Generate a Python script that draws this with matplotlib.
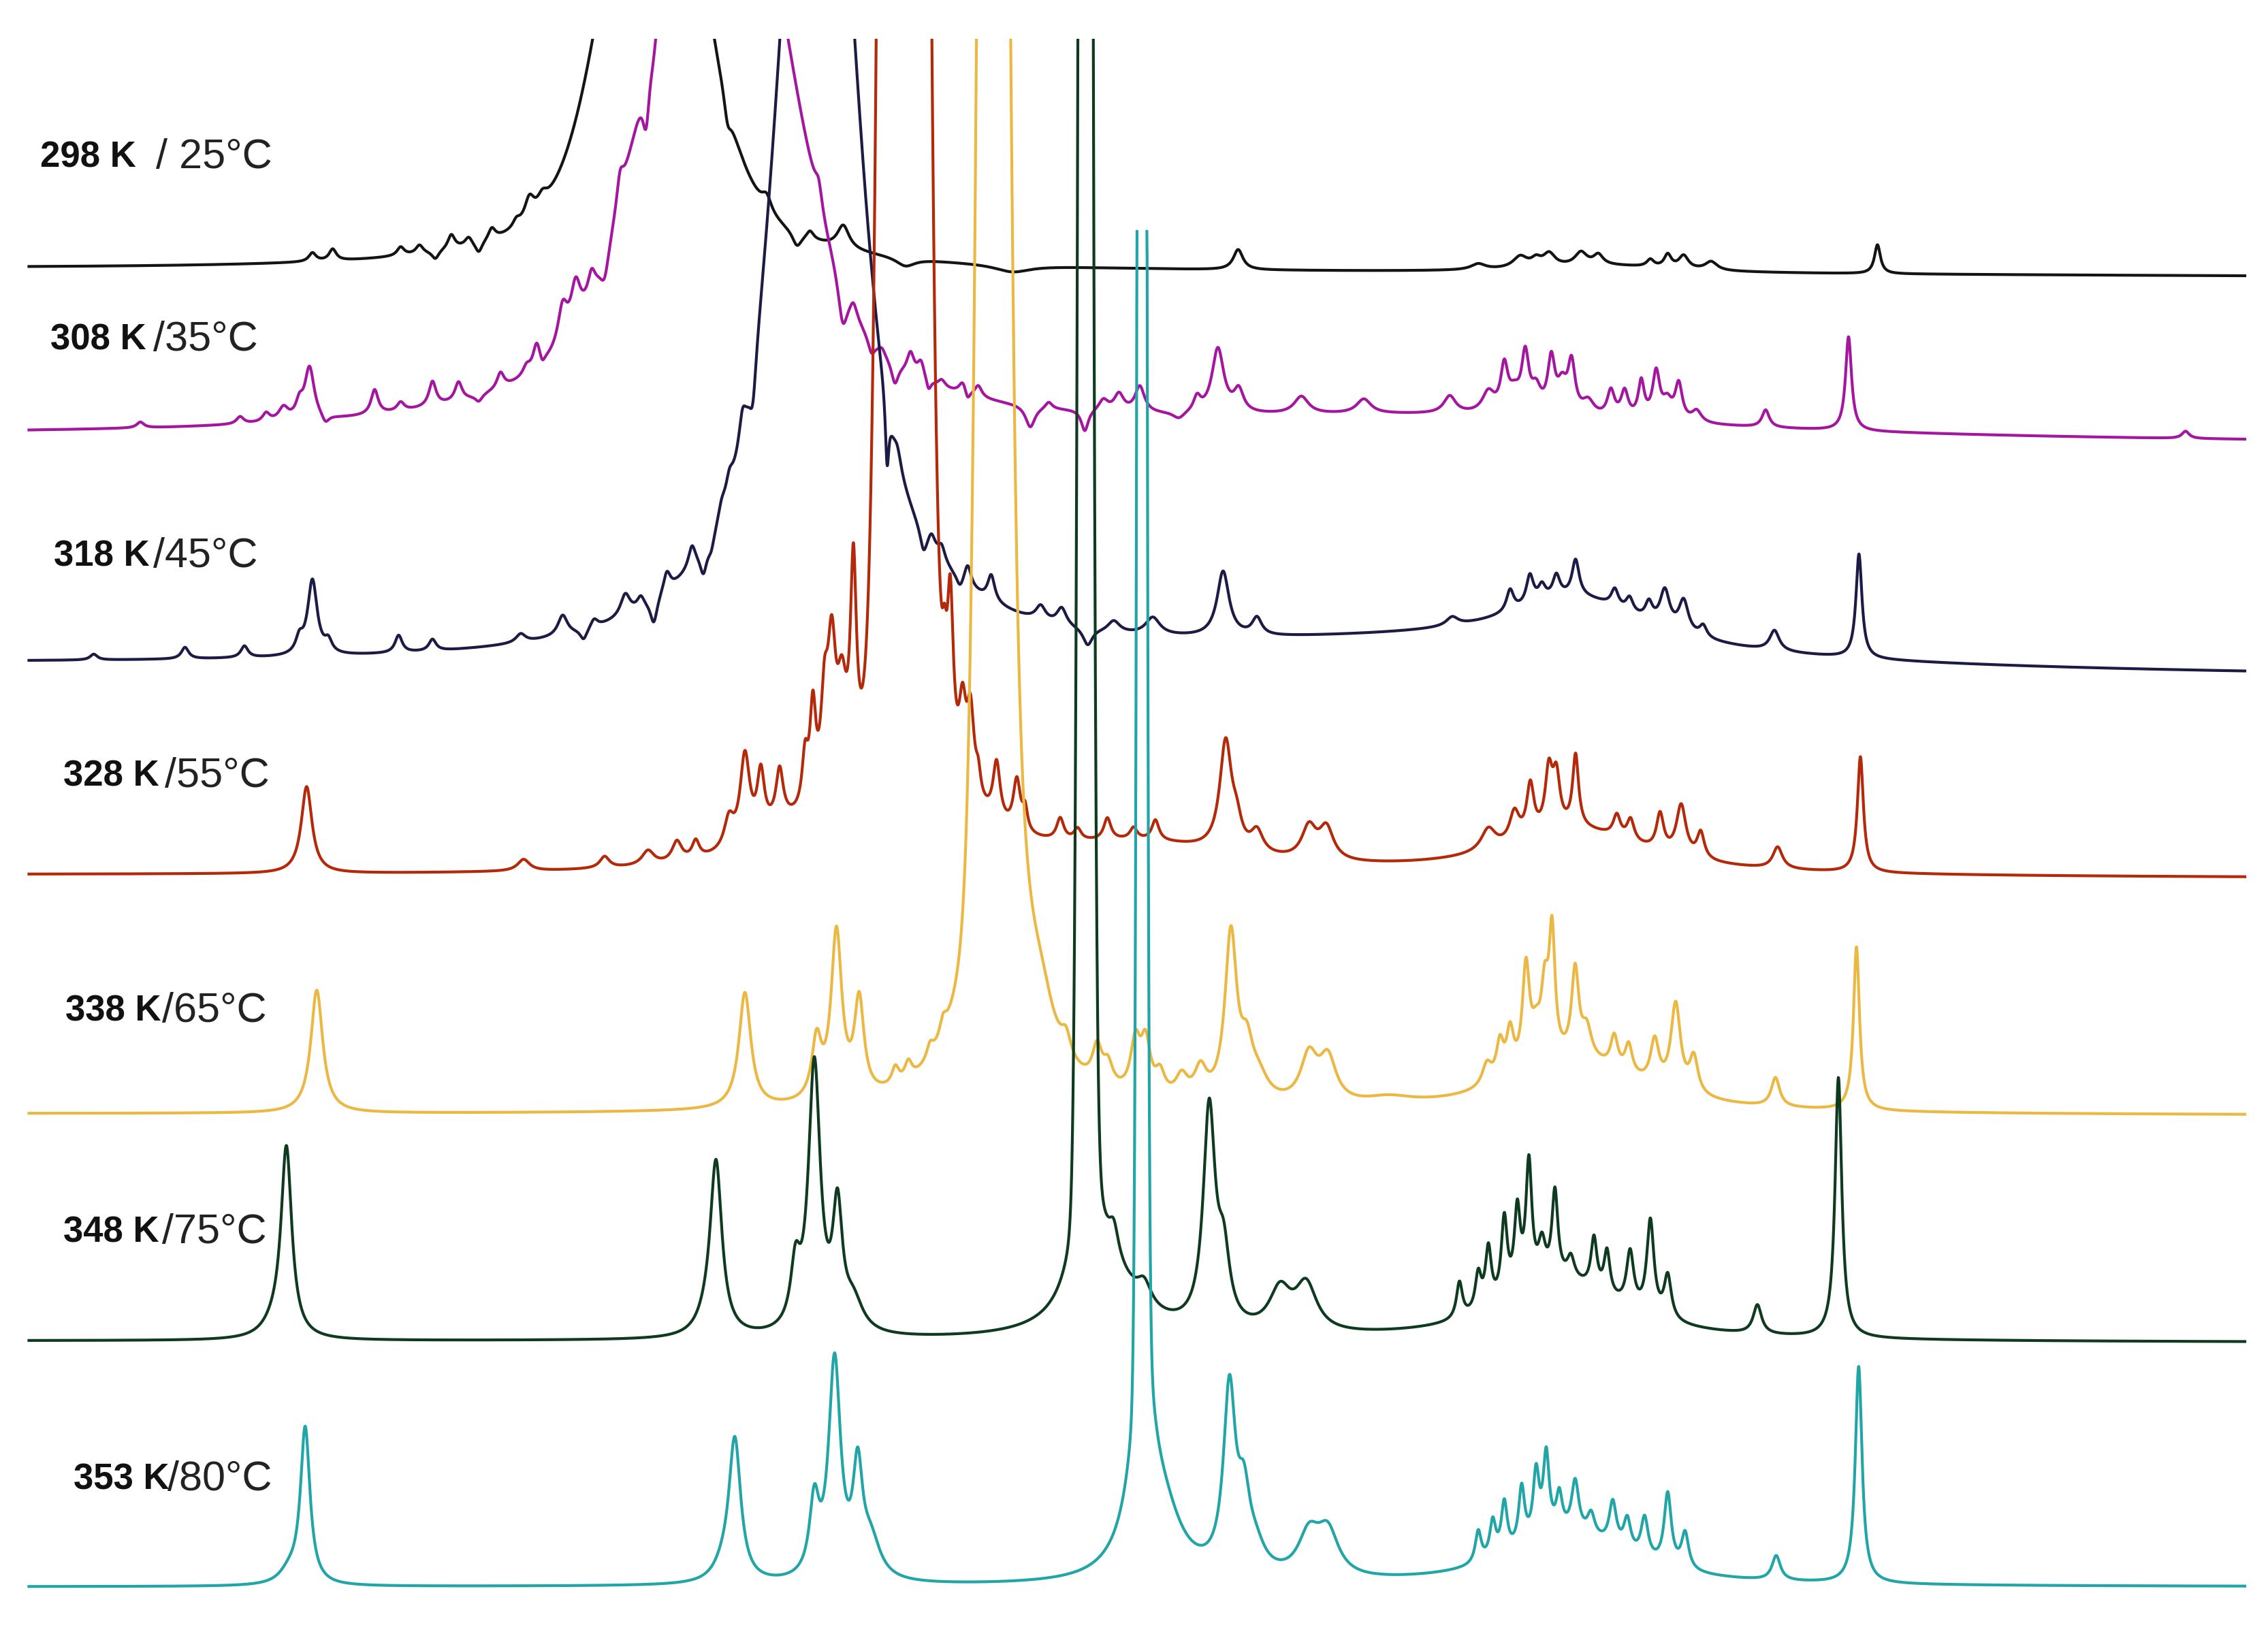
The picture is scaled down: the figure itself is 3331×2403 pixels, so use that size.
import numpy as np
import matplotlib
matplotlib.use("Agg")
import matplotlib.pyplot as plt

# Variable temperature 1H NMR stack, one trace per temperature.
# x = shift position, y = trace offset (plot units, top of figure = 0, grows downward)
kelvin = ["298 K", "308 K", "318 K", "328 K", "338 K", "348 K", "353 K"]
celsius = ["/ 25°C", "/35°C", "/45°C", "/55°C", "/65°C", "/75°C", "/80°C"]
colors = ["#141414", "#a4169f", "#1b1b45", "#b3290a", "#ebb843", "#0e3a20", "#21a5a6"]

base_left = [186, 302, 460, 605, 770, 927, 1097]
base_right = [191, 307, 468, 607, 771, 928, 1097]

# the big solvent (water) signal that moves with temperature: gaussian core + lorentzian skirt
water_core = [(452, 250, 35), (497, 300, 48), (565, 400, 25), (625, 6000, 10),
              (686, 1800, 8), (750.5, 3000, 3.8), (789.5, 3000, 2.5)]
water_skirt = [(452, 110, 55), (497, 180, 70), (565, 320, 45), (625, 150, 30),
               (690, 700, 11), (751, 150, 8), (790, 150, 7)]
# the 353 K trace is cut off at this height in the original figure
clip_height = [None, None, None, None, None, None, 937]

# other lines (position, height, half width)
peaks_298 = [(216, 6, 3), (230, 8, 3), (277, 6, 3), (290, 6, 3), (301, -6, 3), (312, 10, 3),
             (324, 6, 3), (331, -8, 3), (340, 8, 3), (357, 5, 3), (366, 15, 4), (375, 8, 4),
             (503, -15, 3), (530, 10, 4), (551, -10, 4), (560, 6, 3), (583, 16, 5), (626, -6, 8),
             (700, -5, 15), (856, 14, 4), (1022, 4, 6), (1051, 8, 6), (1062, 5, 4), (1071, 9, 5),
             (1093, 9, 5), (1105, 7, 4), (1141, 5, 3), (1153, 9, 3), (1164, 9, 4), (1183, 6, 5),
             (1110, 5, 60), (1298, 20, 2.5)]
peaks_308 = [(97, 4, 3), (166, 5, 3), (184, 6, 3), (196, 9, 4), (207, 10, 3), (214, 36, 4),
             (225, -6, 3), (259, 17, 3), (277, 6, 3), (299, 17, 3), (317, 13, 3), (331, -5, 3),
             (346, 11, 3), (364, 6, 3), (371, 17, 3), (375, -5, 2), (389, 26, 4), (398, 29, 4),
             (409, 15, 3), (418, -20, 4), (428.7, 20, 3), (446.7, -40, 3), (452, -20, 4),
             (566, 15, 3), (582.6, -30, 4), (590, 10, 3), (602.5, -10, 3), (609.7, 5, 3),
             (618.7, -15, 3), (629.5, 15, 3), (636.7, 12, 3), (642, -8, 2), (651, 5, 3),
             (665.5, 8, 3), (669, -6, 2), (676.3, 8, 3), (712.3, -15, 4), (725, 5, 3),
             (750, -15, 3), (762.8, 8, 4), (773.6, 12, 4), (788, 18, 4), (815, -5, 5),
             (827.6, 10, 3), (842, 45, 5), (856.4, 15, 4), (899.7, 12, 6), (942.9, 10, 6),
             (1002.3, 12, 5), (1000, 15, 250),
             (1029, 14, 5), (1040, 30, 3), (1047, 12, 5), (1054.5, 38, 3), (1062, 15, 4),
             (1072.5, 36, 3), (1080, 18, 4), (1086.5, 34, 3), (1098, 10, 5), (1113.7, 18, 3),
             (1123.2, 18, 3), (1134.7, 25, 2.5), (1145, 32, 3), (1152.7, 12, 4), (1160.6, 25, 3),
             (1173, 8, 4), (1220.7, 12, 3), (1278, 65, 2.5), (1511, 5, 3)]
peaks_318 = [(64.8, 4, 3), (127.9, 8, 3), (169, 8, 3), (207, 10, 3), (216, 52, 4), (227, 8, 3),
             (275.6, 12, 3), (299, 8, 3), (360, 6, 4), (389, 14, 4), (403.5, -8, 3), (410.7, 6, 3),
             (432.3, 15, 4), (443, 8, 3), (452, -18, 3), (461, 14, 3), (478.4, 15, 3),
             (486.3, -18, 3), (491.7, -10, 3), (498.9, 8, 3), (504.3, 12, 3), (513.3, 20, 3),
             (520.5, -30, 3), (613.3, -45, 1.5), (620.5, 10, 3), (638.5, -15, 3), (644, 10, 3),
             (651, 10, 3), (663.7, -8, 3), (669, 15, 3), (685.3, 18, 3), (719.5, 10, 4),
             (734, 12, 4), (752, -12, 4), (770, 8, 5), (797, 12, 6), (845.6, 45, 5), (869, 12, 4),
             (1004, 6, 5), (980, 18, 250),
             (1090, 35, 60), (1044, 15, 3), (1057.7, 20, 3), (1066, 10, 3), (1076, 15, 3),
             (1089.3, 25, 3), (1116.4, 12, 3), (1126.6, 10, 3), (1140, 12, 3), (1151, 25, 4),
             (1164, 22, 4), (1177.5, 8, 3), (1226.8, 14, 4), (1285.2, 72, 2.5)]
peaks_328 = [(212, 60, 4.5), (362, 8, 5), (418, 8, 4), (448, 10, 5), (468, 14, 4), (481, 12, 3),
             (504, 20, 4), (515, 60, 4), (526, 40, 3), (539, 35, 3), (540, 15, 25),
             (556.6, 35, 2.5), (562, 65, 2.5), (570, 60, 3), (575, 95, 3.5), (582, 60, 4),
             (590, 140, 2.5),
             (653, 40, 2), (657, 110, 2.5), (665.5, 50, 3), (671, 55, 3), (676.3, 15, 2),
             (689, 40, 3), (703, 35, 3), (708.7, 15, 2), (733, 15, 3), (745, 8, 3),
             (765.6, 15, 3), (783.7, 8, 3), (798.8, 14, 3), (790, 18, 80), (847.4, 75, 5),
             (855, 15, 4), (869, 15, 5), (905, 22, 6), (917, 22, 6), (1029, 15, 6),
             (1090, 30, 60), (1047, 20, 4), (1058, 35, 3), (1070.8, 40, 3), (1076, 35, 3),
             (1089.3, 50, 2.5), (1117.8, 15, 3), (1127.3, 15, 3), (1147.7, 25, 3),
             (1162.3, 35, 4), (1175.8, 18, 3), (1229, 15, 4), (1286.2, 80, 2.5)]
peaks_338 = [(219, 85, 5), (515, 80, 5), (564.6, 40, 4), (578.3, 115, 4.5), (594, 65, 4),
             (619, 12, 3), (628, 12, 3), (643, 10, 3), (652, 12, 3),
             (720, 25, 10), (737, 15, 4), (758.5, 25, 4), (766, 15, 4), (785, 35, 4), (792, 35, 4),
             (802, 15, 4), (817, 15, 5), (830, 20, 5), (851, 115, 5), (862, 30, 5), (870, 15, 8),
             (905, 32, 7), (918, 30, 7), (960, 5, 20),
             (1090, 35, 55), (1028, 15, 4), (1037, 25, 3), (1044, 30, 3), (1055, 70, 3),
             (1062, 20, 4), (1068, 45, 3), (1073, 85, 2.5), (1089, 60, 3), (1097, 20, 4),
             (1116, 22, 3), (1126, 20, 3), (1144, 30, 3.5), (1158.5, 60, 4), (1171, 25, 3.5),
             (1227.5, 20, 3.5), (1283.5, 113, 2.5)]
peaks_348 = [(190, 8, 10), (198, 130, 4.5), (488, 6, 8), (495, 120, 5), (550, 40, 4),
             (563, 185, 5), (579, 80, 4), (590, 20, 8),
             (765, 40, 25), (770, 20, 4), (791, 15, 6), (836, 150, 5), (846, 45, 5), (885, 28, 9),
             (903, 32, 9),
             (1080, 40, 50), (1009, 25, 2.5), (1022, 25, 2.5), (1029, 40, 2.5), (1040, 55, 2.5),
             (1049, 55, 2.5), (1057, 85, 2.5), (1066, 25, 3), (1075, 60, 2.5), (1086, 15, 3),
             (1102, 35, 2.5), (1111, 30, 2.5), (1127, 38, 3), (1141, 65, 3), (1153, 30, 3),
             (1215, 20, 3.5), (1271, 180, 2.8)]
peaks_353 = [(200, 8, 8), (211, 108, 4), (500, 8, 8), (508, 98, 5), (563, 50, 4), (577, 150, 5),
             (593, 70, 4), (602, 25, 8),
             (790, 40, 15), (805, 30, 15), (850, 125, 5), (860, 45, 5), (868, 15, 8), (905, 28, 9),
             (918, 30, 9),
             (1085, 35, 50), (1022, 22, 2.5), (1032, 25, 2.5), (1040, 35, 2.5), (1052, 40, 2.5),
             (1062, 45, 2.5), (1069, 55, 2.5), (1078, 25, 2.5), (1089, 35, 3), (1100, 15, 3),
             (1115, 30, 3), (1125, 22, 3), (1137, 28, 3), (1153, 50, 3), (1165, 25, 3),
             (1228, 17, 3.5), (1285, 150, 2.8)]
peak_lists = [peaks_298, peaks_308, peaks_318, peaks_328, peaks_338, peaks_348, peaks_353]

# label layout
kelvin_x = [28, 35, 37, 44, 45, 44, 51]
celsius_x = [108, 106, 106, 114, 112, 112, 116]
label_y = [109, 235, 385, 537, 699, 852, 1023]


def lorentz(x, c, h, w):
    return h * w ** 2 / ((x - c) ** 2 + w ** 2)


def gauss(x, c, h, w):
    return h * np.exp(-np.log(2) * ((x - c) / w) ** 2)


fig = plt.figure(figsize=(33.31, 24.03), dpi=100)
ax = fig.add_axes([0, 0, 1, 1104 / 1131])
ax.set_xlim(0, 1568)
ax.set_ylim(1131, 27)
ax.axis("off")

x = np.linspace(20, 1552, 9000)
for i in range(len(kelvin)):
    inten = gauss(x, *water_core[i]) + lorentz(x, *water_skirt[i])
    for p in peak_lists[i]:
        inten = inten + lorentz(x, *p)
    if clip_height[i] is not None:
        # flat cut: keep the two edges at the cut height, drop the top in between
        over = inten >= clip_height[i]
        inten = np.minimum(inten, clip_height[i])
        inner = over & np.roll(over, 1) & np.roll(over, -1)
        inten[inner] = np.nan
    base = base_left[i] + (base_right[i] - base_left[i]) * (x - x[0]) / (x[-1] - x[0])
    ax.plot(x, base - inten, color=colors[i], lw=3.0, solid_joinstyle="round")

    ax.text(kelvin_x[i], label_y[i], kelvin[i], fontsize=38, fontweight="bold",
            family="Liberation Sans", color="#111111", ha="left", va="center")
    ax.text(celsius_x[i], label_y[i], celsius[i], fontsize=44, family="Liberation Sans",
            color="#222222", ha="left", va="center")

fig.savefig("out.png", dpi=100)
